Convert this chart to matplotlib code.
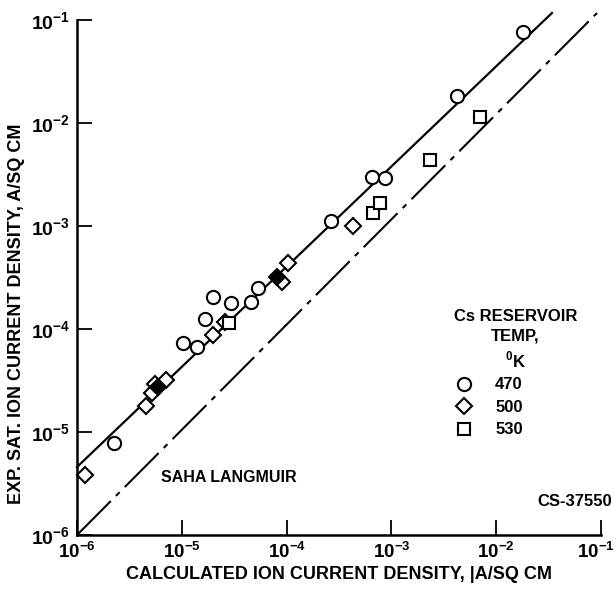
#!/usr/bin/env python
# -*- coding: utf-8 -*-

""" Experimental vs calculated saturation ion current density (log-log). """

import numpy as np
import matplotlib as mpl
mpl.use('Agg')
import matplotlib.pyplot as plt
from matplotlib.lines import Line2D
from matplotlib.transforms import ScaledTranslation

FONT = ['Liberation Sans', 'DejaVu Sans']

# ---- data (A/sq cm) ----
circle_x = [10 ** v for v in [-5.647, -4.989, -4.855, -4.779, -4.702, -4.531, -4.340, -4.273,
                              -3.576, -3.185, -3.061, -2.374, -1.744]]
circle_y = [10 ** v for v in [-5.107, -4.136, -4.175, -3.903, -3.689, -3.748, -3.738, -3.602,
                              -2.951, -2.524, -2.534, -1.738, -1.117]]

diamond_x = [10 ** v for v in [-5.924, -5.342, -5.284, -5.256, -5.151, -4.702, -4.588,
                               -4.044, -3.987, -3.366]]
diamond_y = [10 ** v for v in [-5.417, -4.748, -4.621, -4.534, -4.495, -4.058, -3.932,
                               -3.544, -3.359, -3.000]]
# overlapping points that print as solid marks
filled_x = [10 ** v for v in [-5.227, -4.092]]
filled_y = [10 ** v for v in [-4.563, -3.495]]

square_x = [10 ** v for v in [-4.550, -3.176, -3.109, -2.632, -2.155]]
square_y = [10 ** v for v in [-3.942, -2.874, -2.777, -2.359, -1.942]]

fit_x = [1e-6, 10 ** -1.468]
fit_y = [10 ** -5.34, 10 ** -0.932]
saha_x = [1e-6, 10 ** -1.038]
saha_y = [1e-6, 10 ** -0.932]

temps = ['470', '500', '530']
decades = [-6, -5, -4, -3, -2, -1]


def main():
    plt.rcParams['font.family'] = FONT
    plt.rcParams['font.weight'] = 'bold'
    plt.rcParams['mathtext.fontset'] = 'custom'
    plt.rcParams['mathtext.rm'] = 'Liberation Sans:bold'
    plt.rcParams['mathtext.bf'] = 'Liberation Sans:bold'

    fig = plt.figure(figsize=(6.16, 5.94), dpi=100)
    ax = fig.add_axes([0.125, 0.0993, 0.8506, 0.867])

    ax.plot(fit_x, fit_y, '-', color='k', lw=1.6, clip_on=False)
    ax.plot(saha_x, saha_y, color='k', lw=1.5, linestyle=(0, (23, 3.5, 2.5, 3.5)), clip_on=False)

    mk = dict(linestyle='none', mfc='white', mec='k', mew=1.5, clip_on=False)
    ax.plot(circle_x, circle_y, marker='o', ms=9.5, label=temps[0], **mk)
    ax.plot(diamond_x, diamond_y, marker='D', ms=8, label=temps[1], **mk)
    ax.plot(square_x, square_y, marker='s', ms=8, label=temps[2], **mk)
    ax.plot(filled_x, filled_y, marker='D', ms=8, linestyle='none', mfc='k', mec='k', mew=1.5)

    ax.set_xscale('log')
    ax.set_yscale('log')
    ax.set_xlim(1e-6, 1e-1)
    ax.set_ylim(1e-6, 1e-1)
    ticks = [10.0 ** d for d in decades]
    labels = [r'$\mathbf{10^{%d}}$' % d for d in decades]
    ax.set_xticks(ticks)
    ax.set_xticklabels(labels)
    ax.set_yticks(ticks)
    ax.set_yticklabels(labels)
    ax.minorticks_off()
    ax.tick_params(axis='both', which='major', direction='in', length=11, width=1.3,
                   labelsize=14, pad=5)
    ax.tick_params(axis='x', labelsize=13.5)
    # last x label sits right at the figure edge; nudge it in a little
    last = ax.get_xticklabels()[-1]
    last.set_transform(last.get_transform() + ScaledTranslation(-4 / 72, 0, fig.dpi_scale_trans))
    ax.spines['right'].set_visible(False)
    ax.spines['top'].set_visible(False)
    for s in ('left', 'bottom'):
        ax.spines[s].set_linewidth(1.8)

    ax.set_xlabel('CALCULATED ION CURRENT DENSITY, |A/SQ CM', fontsize=13, fontweight='bold', labelpad=3)
    ax.set_ylabel('EXP. SAT. ION CURRENT DENSITY, A/SQ CM', fontsize=13, fontweight='bold')
    ax.yaxis.set_label_coords(-0.1, 0.43)

    ax.text(10 ** -5.2, 10 ** -5.44, 'SAHA LANGMUIR', fontsize=11.5, fontweight='bold', va='center')
    fig.text(0.994, 1 - 502 / 594, 'CS-37550', fontsize=12, fontweight='bold', ha='right', va='center')

    handles = [Line2D([], [], marker=m, ms=s, linestyle='none', mfc='white', mec='k', mew=1.5)
               for m, s in (('o', 9.5), ('D', 8), ('s', 8))]
    leg = ax.legend(handles, temps, title='Cs RESERVOIR\nTEMP,\n$^{\\mathbf{0}}$K',
                    loc='upper left', bbox_to_anchor=(0.69, 0.468), frameon=False,
                    fontsize=12, handletextpad=1.3, labelspacing=0.45, handlelength=1.2,
                    title_fontsize=12)
    leg.get_title().set_multialignment('center')
    leg.get_title().set_fontweight('bold')
    leg.get_title().set_linespacing(1.35)
    leg._legend_box.align = 'left'

    fig.savefig('out.png', dpi=100)


if __name__ == '__main__':
    main()
